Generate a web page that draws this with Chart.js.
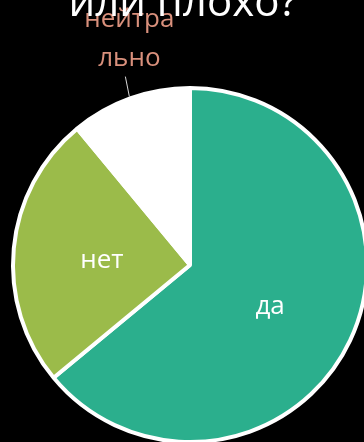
<!DOCTYPE html>
<html>
<head>
<meta charset="utf-8">
<script src="https://cdn.jsdelivr.net/npm/chart.js@4"></script>
<style>
  html, body { margin: 0; padding: 0; background: #000; overflow: hidden; }
  #wrap { position: relative; width: 364px; height: 442px; overflow: hidden; background: #000; }
  #wrap canvas { position: absolute; left: 0; top: -40px; }
</style>
</head>
<body>
<div id="wrap"><canvas id="c" width="400" height="540"></canvas></div>
<script>
// Survey answers
const categories = ['да', 'нет', 'нейтра\u00adльно'];
const shares = [64, 25, 11];
const sliceColors = ['#2BAF8D', '#9BBB4A', '#FFFFFF'];
const titleText = 'или плохо?';

const FONT = '"Open Sans", "Noto Sans", sans-serif';

// Title drawn above the plot, partly running off the top edge
const titlePlugin = {
  id: 'topTitle',
  afterDraw(chart) {
    const ctx = chart.ctx;
    ctx.save();
    ctx.fillStyle = '#FFFFFF';
    ctx.font = '42px ' + FONT;
    ctx.textAlign = 'center';
    ctx.textBaseline = 'alphabetic';
    ctx.fillText(titleText, 183, 56);
    ctx.restore();
  }
};

// Category labels: inside for large slices, outside with a leader line for the small one
const sliceLabels = {
  id: 'sliceLabels',
  afterDatasetsDraw(chart) {
    const ctx = chart.ctx;
    const meta = chart.getDatasetMeta(0);
    ctx.save();
    ctx.font = '26px ' + FONT;
    ctx.textAlign = 'center';
    meta.data.forEach((arc, i) => {
      const p = arc.getProps(['x', 'y', 'startAngle', 'endAngle', 'outerRadius'], true);
      const mid = (p.startAngle + p.endAngle) / 2;
      const name = categories[i];
      if (shares[i] >= 20) {
        const r = p.outerRadius * 0.5;
        ctx.fillStyle = '#FFFFFF';
        ctx.textBaseline = 'middle';
        ctx.fillText(name, p.x + Math.cos(mid) * r, p.y + Math.sin(mid) * r + 4);
      } else {
        const sx = p.x + Math.cos(mid) * (p.outerRadius + 2);
        const sy = p.y + Math.sin(mid) * (p.outerRadius + 2);
        const ex = sx - 4, ey = sy - 20;
        ctx.strokeStyle = '#D9D9D9';
        ctx.lineWidth = 1;
        ctx.beginPath();
        ctx.moveTo(sx, sy);
        ctx.lineTo(ex, ey);
        ctx.stroke();
        const parts = name.split('\u00ad');
        ctx.fillStyle = '#D9907C';
        ctx.textBaseline = 'alphabetic';
        ctx.fillText(parts[1], ex + 4, ey - 11);
        ctx.fillText(parts[0], ex + 4, ey - 50);
      }
    });
    ctx.restore();
  }
};

new Chart(document.getElementById('c'), {
  type: 'pie',
  data: {
    labels: categories,
    datasets: [{
      data: shares,
      backgroundColor: sliceColors,
      borderColor: '#FFFFFF',
      borderWidth: 4
    }]
  },
  options: {
    responsive: false,
    animation: false,
    events: [],
    layout: { padding: { left: 11, top: 126, right: 31, bottom: 56 } },
    plugins: {
      legend: { display: false },
      tooltip: { enabled: false },
      title: { display: false }
    }
  },
  plugins: [titlePlugin, sliceLabels]
});
</script>
</body>
</html>
